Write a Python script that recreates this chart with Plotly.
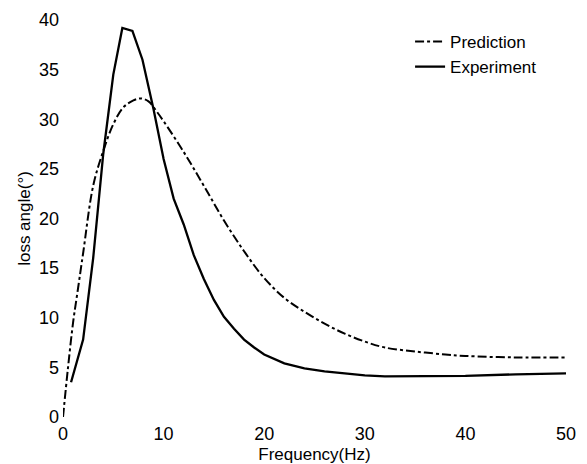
import plotly.graph_objects as go

exp_x = [0.8, 2, 3, 4, 5, 5.9, 6.9, 7.9, 9, 10, 11, 12, 13, 14, 15, 16, 17, 18, 19, 20, 22, 24, 26, 28, 30, 32, 35, 40, 45, 50]
exp_y = [3.5, 7.8, 16, 26.5, 34.5, 39.2, 38.9, 36, 31, 26, 22, 19.4, 16.3, 13.9, 11.8, 10.1, 8.9, 7.8, 7.0, 6.3, 5.4, 4.9, 4.6, 4.4, 4.2, 4.1, 4.1, 4.15, 4.3, 4.4]

pred_x = [0, 0.5, 1, 1.5, 2, 3, 4, 5, 6, 7, 7.7, 8.5, 9.3, 10, 12, 14, 16, 18, 20, 22, 24, 26, 28, 30, 32, 35, 38, 40, 45, 50]
pred_y = [0, 5, 9.5, 13, 16.5, 23.3, 26.8, 29.5, 31.2, 31.9, 32.1, 31.8, 30.8, 29.8, 26.7, 23.3, 19.8, 16.7, 14, 12, 10.6, 9.4, 8.4, 7.6, 7.0, 6.6, 6.3, 6.15, 6.0, 6.0]

x_ticks = [0, 10, 20, 30, 40, 50]
y_ticks = [0, 5, 10, 15, 20, 25, 30, 35, 40]

fig = go.Figure()
fig.add_trace(go.Scatter(x=pred_x, y=pred_y, mode="lines", name="Prediction",
                         line=dict(color="black", width=2, dash="dashdot", shape="spline")))
fig.add_trace(go.Scatter(x=exp_x, y=exp_y, mode="lines", name="Experiment",
                         line=dict(color="black", width=2.3)))

font = dict(family="Liberation Sans, Arial, sans-serif", size=17, color="black")
fig.update_layout(
    width=587, height=464,
    margin=dict(l=63, r=21, t=20, b=47),
    paper_bgcolor="white", plot_bgcolor="white",
    font=font,
    showlegend=True,
    legend=dict(x=0.69, y=0.99, xanchor="left", yanchor="top",
                bgcolor="rgba(0,0,0,0)", font=dict(size=17), tracegroupgap=0,
                itemwidth=30),
    xaxis=dict(range=[0, 50], tickvals=x_ticks, showgrid=False, zeroline=False,
               showline=False, ticks="", tickfont=dict(size=18), ticklabelstandoff=4,
               automargin=False,
               title=dict(text="Frequency(Hz)", font=dict(size=17), standoff=6)),
    yaxis=dict(range=[0, 40], tickvals=y_ticks, showgrid=False, zeroline=False,
               showline=False, ticks="", tickfont=dict(size=18), ticklabelstandoff=3,
               automargin=False,
               title=dict(text="loss angle(°)", font=dict(size=17), standoff=4)),
)
fig.write_html("out.html")
